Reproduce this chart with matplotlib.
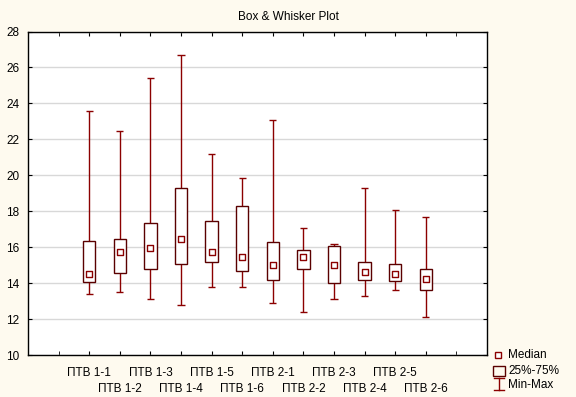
import matplotlib
matplotlib.use("Agg")
import matplotlib.pyplot as plt
from matplotlib.lines import Line2D
from matplotlib.patches import Rectangle

plt.rcParams['font.family'] = ['Liberation Sans', 'DejaVu Sans']

categories = ["ПТВ 1-1", "ПТВ 1-2", "ПТВ 1-3", "ПТВ 1-4", "ПТВ 1-5", "ПТВ 1-6",
              "ПТВ 2-1", "ПТВ 2-2", "ПТВ 2-3", "ПТВ 2-4", "ПТВ 2-5", "ПТВ 2-6"]
mins    = [13.37, 13.48, 13.09, 12.76, 13.76, 13.76, 12.87, 12.37, 13.09, 13.26, 13.59, 12.09]
q1      = [14.07, 14.59, 14.78, 15.09, 15.20, 14.70, 14.20, 14.78, 14.00, 14.20, 14.09, 13.59]
medians = [14.48, 15.74, 15.98, 16.48, 15.74, 15.43, 15.03, 15.48, 15.03, 14.64, 14.48, 14.22]
q3      = [16.37, 16.48, 17.37, 19.31, 17.48, 18.31, 16.30, 15.87, 16.07, 15.20, 15.07, 14.76]
maxs    = [23.59, 22.48, 25.41, 26.70, 21.20, 19.87, 23.09, 17.09, 16.19, 19.31, 18.09, 17.70]

W, H = 576, 397
fig = plt.figure(figsize=(W / 100, H / 100), dpi=100)
bg = '#fefaef'
fig.patch.set_facecolor(bg)
ax = fig.add_axes([28 / W, (H - 355) / H, (487 - 28) / W, (355 - 31.5) / H])
ax.set_facecolor('white')

box_col = '#5a0000'
wh_col = '#8b0000'
fs = 8.5
pos = list(range(2, 2 + len(categories)))
cap = 0.115

ax.vlines(pos, mins, q1, color=wh_col, lw=1.0, zorder=3)
ax.vlines(pos, q3, maxs, color=wh_col, lw=1.0, zorder=3)
ax.hlines(mins, [p - cap for p in pos], [p + cap for p in pos], color=wh_col, lw=1.0, zorder=3)
ax.hlines(maxs, [p - cap for p in pos], [p + cap for p in pos], color=wh_col, lw=1.0, zorder=3)
heights = [b - a for a, b in zip(q1, q3)]
ax.bar(pos, heights, bottom=q1, width=0.4, facecolor='white', edgecolor=box_col, lw=1.0, zorder=4)
ax.scatter(pos, medians, marker='s', s=20, facecolors='white', edgecolors=wh_col, linewidths=1.0, zorder=5)

ax.set_xlim(0, 15)
ax.set_ylim(10, 28)
ax.set_yticks(range(10, 29, 2))
ax.yaxis.grid(True, color='#d8d8d8', lw=1.0)
ax.set_axisbelow(True)
ax.set_xticks(pos)
ax.set_xticklabels(categories)
ax.set_xticks([1, 14], minor=True)
ax.tick_params(axis='both', which='both', direction='in', length=3, top=True, right=True,
               labelsize=fs, color='black')
ax.tick_params(axis='y', pad=6)
for i, t in enumerate(ax.xaxis.get_major_ticks()):
    t.set_pad(9 if i % 2 == 0 else 20.5)
for s in ax.spines.values():
    s.set_linewidth(1.0)
    s.set_color('black')

fig.text(0.5, 1 - 17.5 / H, "Box & Whisker Plot", ha='center', va='center', fontsize=fs)

# Legend (figure pixel coordinates)
def px(x, y):
    return x / W, 1 - y / H

fig.add_artist(Line2D(*zip(px(498, 355)), marker='s', markersize=5, markerfacecolor='white',
                      markeredgecolor=wh_col, markeredgewidth=1.0, linestyle='none'))
fig.text(*px(508, 355), "Median", fontsize=fs, va='center', ha='left')
x0, y0 = px(493, 376)
x1, y1 = px(505, 366)
fig.add_artist(Rectangle((x0, y0), x1 - x0, y1 - y0, transform=fig.transFigure,
                         facecolor='none', edgecolor=box_col, lw=1.0))
fig.text(*px(508, 371), "25%-75%", fontsize=fs, va='center', ha='left')
for (xa, ya), (xb, yb) in [((499, 378), (499, 390)), ((494, 378), (504, 378)), ((494, 390), (504, 390))]:
    a = px(xa, ya); b = px(xb, yb)
    fig.add_artist(Line2D([a[0], b[0]], [a[1], b[1]], color=wh_col, lw=1.0))
fig.text(*px(508, 385), "Min-Max", fontsize=fs, va='center', ha='left')

fig.savefig("out.png", dpi=100, facecolor=bg)
